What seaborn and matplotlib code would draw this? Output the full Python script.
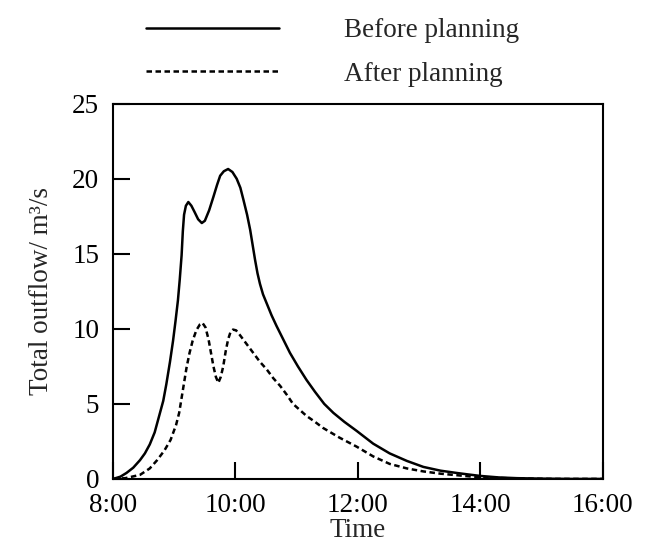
import matplotlib
matplotlib.use('Agg')
import matplotlib.pyplot as plt
import seaborn as sns
import pandas as pd

# --- Data (hours after 8:00, outflow in m3/s) ---
before_t = [0.00, 0.12, 0.22, 0.33, 0.44, 0.52, 0.60, 0.68, 0.76, 0.82, 0.87, 0.93,
            0.98, 1.02, 1.06, 1.09, 1.12, 1.14, 1.16, 1.19, 1.23, 1.28, 1.33, 1.39,
            1.45, 1.50, 1.57, 1.64, 1.70, 1.75, 1.81, 1.88, 1.95, 2.02, 2.08, 2.13,
            2.19, 2.24, 2.28, 2.32, 2.36, 2.40, 2.45, 2.51, 2.59, 2.67, 2.78, 2.89,
            3.02, 3.16, 3.30, 3.45, 3.60, 3.78, 3.98, 4.25, 4.52, 4.80, 5.07, 5.35,
            5.61, 5.80, 6.00, 6.30, 6.60, 7.00, 7.50, 8.00]
before_q = [0.0, 0.15, 0.4, 0.75, 1.25, 1.7, 2.3, 3.1, 4.3, 5.2, 6.3, 7.8,
            9.2, 10.5, 11.9, 13.3, 14.9, 16.5, 17.6, 18.2, 18.45, 18.2, 17.8, 17.3,
            17.05, 17.2, 17.9, 18.8, 19.6, 20.2, 20.5, 20.65, 20.45, 20.0, 19.4, 18.6,
            17.6, 16.6, 15.6, 14.6, 13.7, 13.0, 12.3, 11.7, 10.9, 10.2, 9.3, 8.4,
            7.5, 6.6, 5.8, 5.0, 4.4, 3.8, 3.2, 2.35, 1.7, 1.2, 0.8, 0.55,
            0.4, 0.3, 0.2, 0.1, 0.05, 0.02, 0.0, 0.0]

after_t = [0.00, 0.20, 0.44, 0.60, 0.72, 0.84, 0.94, 1.03, 1.08, 1.12, 1.16, 1.20,
           1.25, 1.30, 1.36, 1.42, 1.46, 1.51, 1.56, 1.60, 1.64, 1.68, 1.72, 1.76,
           1.80, 1.84, 1.88, 1.92, 1.96, 2.01, 2.07, 2.18, 2.29, 2.40, 2.51, 2.62,
           2.73, 2.84, 2.94, 3.05, 3.16, 3.30, 3.43, 3.70, 3.98, 4.25, 4.52, 4.80,
           5.07, 5.35, 5.61, 6.00, 6.60, 7.20, 8.00]
after_q = [0.0, 0.05, 0.27, 0.7, 1.25, 1.9, 2.6, 3.6, 4.4, 5.4, 6.4, 7.4,
           8.4, 9.2, 9.9, 10.3, 10.4, 10.1, 9.3, 8.4, 7.5, 6.8, 6.4, 6.8,
           7.5, 8.5, 9.3, 9.8, 9.95, 9.9, 9.6, 9.0, 8.4, 7.8, 7.3, 6.7,
           6.2, 5.6, 5.0, 4.6, 4.2, 3.8, 3.4, 2.75, 2.15, 1.5, 1.0, 0.7,
           0.5, 0.35, 0.25, 0.1, 0.03, 0.0, 0.0]

x_ticks = [8, 10, 12, 14, 16]
x_labels = ['8:00', '10:00', '12:00', '14:00', '16:00']
y_ticks = [0, 5, 10, 15, 20, 25]

df_before = pd.DataFrame({'hour': [8 + t for t in before_t], 'flow': before_q})
df_after = pd.DataFrame({'hour': [8 + t for t in after_t], 'flow': after_q})

# --- Style ---
sns.set_theme(style='ticks')
plt.rcParams['font.family'] = ['Liberation Serif', 'DejaVu Serif']
plt.rcParams['font.size'] = 19.5

fig = plt.figure(figsize=(6.46, 5.43), dpi=100)
ax = fig.add_axes([0.175, 0.118, 0.758, 0.691])

sns.lineplot(data=df_before, x='hour', y='flow', ax=ax, color='black', lw=1.8,
             label='Before planning', legend=False)
sns.lineplot(data=df_after, x='hour', y='flow', ax=ax, color='black', lw=1.8,
             linestyle=(0, (2.2, 1.4)), label='After planning', legend=False)
for ln in ax.lines:
    ln.set_solid_joinstyle('round')
    ln.set_dash_joinstyle('round')

ax.set_xlim(8, 16)
ax.set_ylim(0, 25)
ax.set_xticks(x_ticks)
ax.set_xticklabels(x_labels)
ax.set_yticks(y_ticks)
ax.tick_params(direction='in', length=12, width=1.5, labelsize=19.5, colors='black')
ax.tick_params(axis='y', pad=10)
ax.tick_params(axis='x', pad=10)
for s in ax.spines.values():
    s.set_linewidth(1.5)
    s.set_color('black')

ax.set_xlabel('Time', fontsize=19.5, labelpad=0)
ax.set_ylabel('Total outflow/ m³/s', fontsize=19.5, labelpad=13)

handles, labels = ax.get_legend_handles_labels()
fig.legend(handles, labels, loc='upper left', bbox_to_anchor=(0.226, 0.966),
           frameon=False, fontsize=19.5, handlelength=4.9, handletextpad=2.4,
           labelspacing=0.68, borderpad=0, borderaxespad=0)

fig.savefig('out.png', dpi=100)
